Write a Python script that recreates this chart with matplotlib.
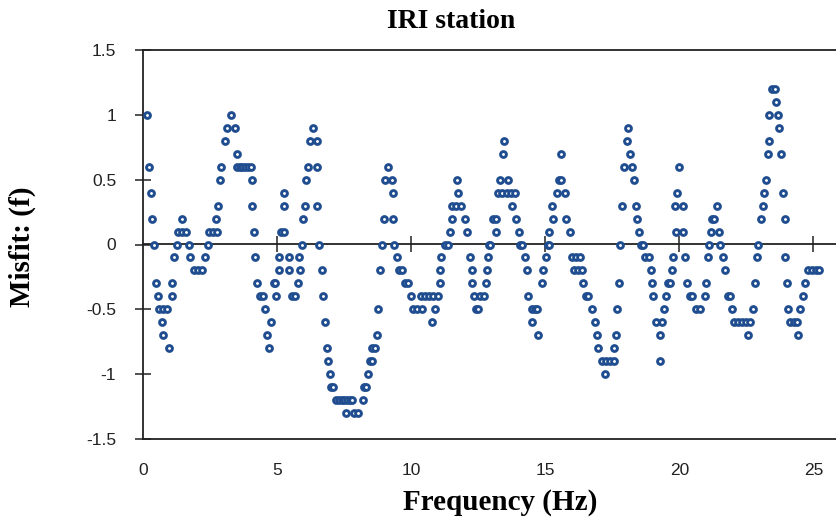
import matplotlib
matplotlib.use("Agg")
import matplotlib.pyplot as plt

# Misfit values per frequency (Hz)
freq = [
    0.13, 0.21, 0.27, 0.33, 0.40, 0.48, 0.56, 0.60, 0.68, 0.75, 0.75, 0.90, 0.97,
    1.06, 1.07, 1.15, 1.25, 1.30, 1.43, 1.45, 1.60, 1.70, 1.76, 1.90, 2.05, 2.20,
    2.32, 2.40, 2.45, 2.60, 2.72, 2.75, 2.77, 2.86, 2.91, 3.05, 3.12, 3.27, 3.43,
    3.48, 3.50, 3.60, 3.70, 3.80, 3.90, 4.00, 4.07, 4.07, 4.12, 4.18, 4.25, 4.35,
    4.45, 4.55, 4.62, 4.70, 4.76, 4.87, 4.92, 4.95, 5.05, 5.08, 5.15, 5.25, 5.24,
    5.24, 5.42, 5.45, 5.55, 5.65, 5.76, 5.80, 5.83, 5.91, 5.96, 6.02, 6.08, 6.16,
    6.22, 6.34, 6.47, 6.47, 6.49, 6.57, 6.65, 6.72, 6.78, 6.84, 6.90, 6.97, 7.00,
    7.08, 7.20, 7.30, 7.40, 7.50, 7.60, 7.70, 7.80, 7.57, 7.85, 8.00, 8.20, 8.22,
    8.32, 8.39, 8.47, 8.55, 8.55, 8.63, 8.71, 8.74, 8.83, 8.89, 8.98, 9.02, 9.14,
    9.27, 9.33, 9.33, 9.37, 9.45, 9.55, 9.65, 9.78, 9.88, 10.00, 10.05, 10.20,
    10.40, 10.35, 10.50, 10.65, 10.76, 10.80, 10.88, 11.00, 11.07, 11.07, 11.10,
    11.25, 11.35, 11.44, 11.50, 11.50, 11.65, 11.71, 11.73, 11.85, 11.99, 12.09,
    12.19, 12.25, 12.27, 12.35, 12.40, 12.50, 12.55, 12.70, 12.80, 12.83, 12.85,
    12.88, 12.95, 13.05, 13.15, 13.16, 13.25, 13.31, 13.40, 13.42, 13.47, 13.55,
    13.62, 13.70, 13.74, 13.85, 13.90, 14.00, 14.05, 14.12, 14.24, 14.30, 14.37,
    14.49, 14.50, 14.60, 14.70, 14.72, 14.86, 14.93, 15.02, 15.08, 15.14, 15.13,
    15.25, 15.30, 15.42, 15.50, 15.60, 15.58, 15.74, 15.78, 15.92, 16.00, 16.15,
    16.30, 16.05, 16.20, 16.35, 16.42, 16.50, 16.60, 16.73, 16.85, 16.94, 16.98,
    17.10, 17.22, 17.25, 17.40, 17.55, 17.56, 17.62, 17.67, 17.74, 17.78, 17.87,
    17.92, 18.04, 18.10, 18.16, 18.25, 18.29, 18.38, 18.43, 18.50, 18.55, 18.65,
    18.72, 18.85, 18.93, 18.97, 19.03, 19.13, 19.27, 19.28, 19.35, 19.44, 19.50,
    19.58, 19.65, 19.72, 19.78, 19.84, 19.86, 19.92, 20.00, 20.12, 20.15, 20.20,
    20.28, 20.38, 20.48, 20.62, 20.77, 20.97, 20.98, 21.05, 21.12, 21.17, 21.22,
    21.30, 21.40, 21.48, 21.53, 21.62, 21.70, 21.80, 21.90, 21.95, 22.05, 22.20,
    22.35, 22.50, 22.55, 22.62, 22.75, 22.83, 22.89, 22.93, 23.06, 23.11, 23.16,
    23.23, 23.30, 23.36, 23.36, 23.46, 23.55, 23.60, 23.67, 23.73, 23.80, 23.88,
    23.94, 23.93, 24.00, 24.04, 24.12, 24.26, 24.40, 24.44, 24.50, 24.60, 24.69,
    24.80, 24.95, 25.10, 25.22,
]
misfit = [
    1.0, 0.6, 0.4, 0.2, 0.0, -0.3, -0.4, -0.5, -0.6, -0.5, -0.7, -0.5, -0.8,
    -0.4, -0.3, -0.1, 0.0, 0.1, 0.2, 0.1, 0.1, 0.0, -0.1, -0.2, -0.2, -0.2,
    -0.1, 0.0, 0.1, 0.1, 0.2, 0.1, 0.3, 0.5, 0.6, 0.8, 0.9, 1.0, 0.9,
    0.7, 0.6, 0.6, 0.6, 0.6, 0.6, 0.6, 0.5, 0.3, 0.1, -0.1, -0.3, -0.4,
    -0.4, -0.5, -0.7, -0.8, -0.6, -0.3, -0.3, -0.4, -0.2, -0.1, 0.1, 0.1, 0.3,
    0.4, -0.1, -0.2, -0.4, -0.4, -0.3, -0.1, -0.2, 0.0, 0.2, 0.3, 0.5, 0.6,
    0.8, 0.9, 0.8, 0.6, 0.3, 0.0, -0.2, -0.4, -0.6, -0.8, -0.9, -1.0, -1.1,
    -1.1, -1.2, -1.2, -1.2, -1.2, -1.2, -1.2, -1.2, -1.3, -1.3, -1.3, -1.2, -1.1,
    -1.1, -1.0, -0.9, -0.9, -0.8, -0.8, -0.7, -0.5, -0.2, 0.0, 0.2, 0.5, 0.6,
    0.5, 0.4, 0.2, 0.0, -0.1, -0.2, -0.2, -0.3, -0.3, -0.4, -0.5, -0.5,
    -0.5, -0.4, -0.4, -0.4, -0.6, -0.4, -0.5, -0.4, -0.3, -0.2, -0.1,
    0.0, 0.0, 0.1, 0.2, 0.3, 0.3, 0.5, 0.4, 0.3, 0.2, 0.1,
    -0.1, -0.2, -0.3, -0.4, -0.5, -0.5, -0.4, -0.4, -0.3, -0.2, -0.1,
    0.0, 0.0, 0.2, 0.2, 0.1, 0.4, 0.5, 0.4, 0.7, 0.8, 0.4,
    0.5, 0.4, 0.3, 0.4, 0.2, 0.1, 0.0, 0.0, -0.1, -0.2, -0.4,
    -0.6, -0.5, -0.5, -0.5, -0.7, -0.3, -0.2, -0.1, 0.0, 0.0, 0.1,
    0.3, 0.2, 0.4, 0.5, 0.5, 0.7, 0.4, 0.2, 0.1, -0.1, -0.1,
    -0.1, -0.2, -0.2, -0.2, -0.3, -0.4, -0.4, -0.5, -0.6, -0.7, -0.8,
    -0.9, -1.0, -0.9, -0.9, -0.9, -0.8, -0.7, -0.5, -0.3, 0.0, 0.3,
    0.6, 0.8, 0.9, 0.7, 0.6, 0.5, 0.3, 0.2, 0.1, 0.0, 0.0,
    -0.1, -0.1, -0.2, -0.3, -0.4, -0.6, -0.7, -0.9, -0.6, -0.5, -0.4,
    -0.3, -0.3, -0.2, -0.1, 0.3, 0.1, 0.4, 0.6, 0.3, 0.1, -0.1,
    -0.3, -0.4, -0.4, -0.5, -0.5, -0.4, -0.3, -0.1, 0.0, 0.1, 0.2,
    0.2, 0.3, 0.1, 0.0, -0.1, -0.2, -0.4, -0.4, -0.5, -0.6, -0.6,
    -0.6, -0.6, -0.7, -0.6, -0.5, -0.3, -0.1, 0.0, 0.2, 0.3, 0.4,
    0.5, 0.7, 0.8, 1.0, 1.2, 1.2, 1.1, 1.0, 0.9, 0.7, 0.4,
    0.2, -0.1, -0.3, -0.5, -0.6, -0.6, -0.6, -0.7, -0.5, -0.4, -0.3,
    -0.2, -0.2, -0.2, -0.2,
]

x_ticks = [0, 5, 10, 15, 20, 25]
y_ticks = [-1.5, -1, -0.5, 0, 0.5, 1, 1.5]
y_tick_labels = ["-1.5", "-1", "-0.5", "0", "0.5", "1", "1.5"]

serif = ["Liberation Serif", "DejaVu Serif"]
sans = ["Liberation Sans", "DejaVu Sans"]
marker_color = "#1F4D8F"
axis_color = "#222222"

fig = plt.figure(figsize=(8.37, 5.20), dpi=100)
ax = fig.add_axes([143.3 / 837, 1 - 439 / 520, 1 - 143.3 / 837, (439 - 50) / 520])

ax.plot(freq, misfit, linestyle="none", marker="o", markersize=4.2,
        markeredgewidth=2.1, markeredgecolor=marker_color,
        markerfacecolor="white", clip_on=False, zorder=3)

ax.set_xlim(0, 25.88)
ax.set_ylim(-1.5, 1.5)

for side in ("left", "bottom", "top"):
    ax.spines[side].set_linewidth(1.3)
    ax.spines[side].set_color(axis_color)
ax.spines["right"].set_visible(False)

ax.set_yticks(y_ticks)
ax.set_yticklabels(y_tick_labels, family=sans, fontsize=12.5, color=axis_color)
ax.tick_params(axis="y", direction="inout", length=11, width=1.1, pad=14,
               color=axis_color)

ax.set_xticks(x_ticks)
ax.set_xticklabels([str(t) for t in x_ticks], family=sans, fontsize=12.5,
                   color=axis_color)
ax.tick_params(axis="x", length=0, pad=17)

# horizontal axis line at zero, carrying the x tick marks (no labels)
zero_axis = ax.secondary_xaxis(0.5)
zero_axis.set_xticks(x_ticks[1:])
zero_axis.set_xticklabels([])
zero_axis.tick_params(direction="inout", length=11, width=1.1,
                      labelbottom=False, labeltop=False, color=axis_color)
for side in zero_axis.spines:
    zero_axis.spines[side].set_linewidth(1.3)
    zero_axis.spines[side].set_color(axis_color)

fig.text(451 / 837, 1 - 21 / 520, "IRI station", ha="center", va="center",
         family=serif, fontweight="bold", fontsize=20)
fig.text(22 / 837, 1 - 247 / 520, "Misfit: (f)", ha="center", va="center",
         rotation=90, family=serif, fontweight="bold", fontsize=21)
fig.text(500 / 837, 1 - 502 / 520, "Frequency (Hz)", ha="center", va="center",
         family=serif, fontweight="bold", fontsize=21)

fig.savefig("out.png", dpi=100)
